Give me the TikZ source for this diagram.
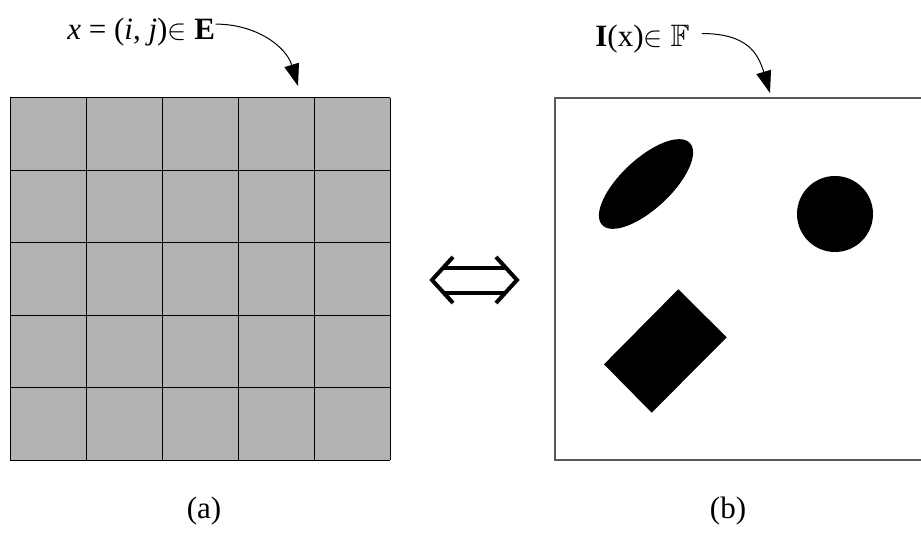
\documentclass[tikz,border=0pt]{standalone}
\usepackage{amssymb}
\usepackage{fontspec}
\setmainfont{Liberation Serif}
\usetikzlibrary{arrows.meta}

\begin{document}
\begin{tikzpicture}[x=0.5pt,y=-0.5pt,
        lbl/.style={font=\fontsize{15.5}{18}\selectfont, inner sep=0pt, anchor=base west},
        subcap/.style={font=\fontsize{15.5}{18}\selectfont, inner sep=0pt, anchor=base},
        pointer/.style={-{Triangle[length=11pt,width=7.5pt]}, line width=0.5pt},
        dbl/.style={line width=2pt, line join=miter},
        boxline/.style={black!65, line width=0.7pt}]
        \useasboundingbox (0,0) rectangle (921,534);

        % the grid E
        \fill[black!30] (10,98) rectangle (390,460);
        \foreach \i in {0,...,5} {
            \draw[line width=0.5pt] (10+76*\i,98) -- (10+76*\i,460);
            \draw[line width=0.5pt] (10,98+72.4*\i) -- (390,98+72.4*\i);
        }

        % the image I
        \draw[boxline] (921,98) -- (555,98) -- (555,460) -- (921,460);
        \fill[rotate around={43:(646,184)}] (646,184) ellipse (60 and 25);
        \fill (835,214) circle (38);
        \fill (678.3,289.3) -- (726.7,337.3) -- (651.7,412.7) -- (604,364.3) -- cycle;

        % labels
        \node[lbl] (lblE) at (67,40) {\textit{x} = (\textit{i}, \textit{j})$\in$ \textbf{E}};
        \node[lbl] (lblF) at (595,47) {\textbf{I}(x)$\in$ $\mathbb{F}$};
        \coordinate (tipE) at (298,86);
        \coordinate (tipF) at (770,93);
        \draw[pointer] ([yshift=-3pt]lblE.north east) .. controls +(40,0) and +(-12,-40) .. (tipE);
        \draw[pointer] ([xshift=6pt,yshift=3pt]lblF.east) .. controls +(45,0) and +(-12,-40) .. (tipF);

        % the double arrow
        \coordinate (lt) at (432,280);
        \coordinate (rt) at (517,280);
        \draw[dbl] ([xshift=10.5pt,yshift=11.5pt]lt) -- (lt) -- ([xshift=10.5pt,yshift=-11.5pt]lt);
        \draw[dbl] ([xshift=-10.5pt,yshift=11.5pt]rt) -- (rt) -- ([xshift=-10.5pt,yshift=-11.5pt]rt);
        \draw[dbl] ([xshift=5.5pt,yshift=6pt]lt) -- ([xshift=-5.5pt,yshift=6pt]rt);
        \draw[dbl] ([xshift=5.5pt,yshift=-6.5pt]lt) -- ([xshift=-5.5pt,yshift=-6.5pt]rt);

        \node[subcap] (capA) at (204,518) {(a)};
        \node[subcap] (capB) at (728,518) {(b)};
    \end{tikzpicture}
\end{document}
